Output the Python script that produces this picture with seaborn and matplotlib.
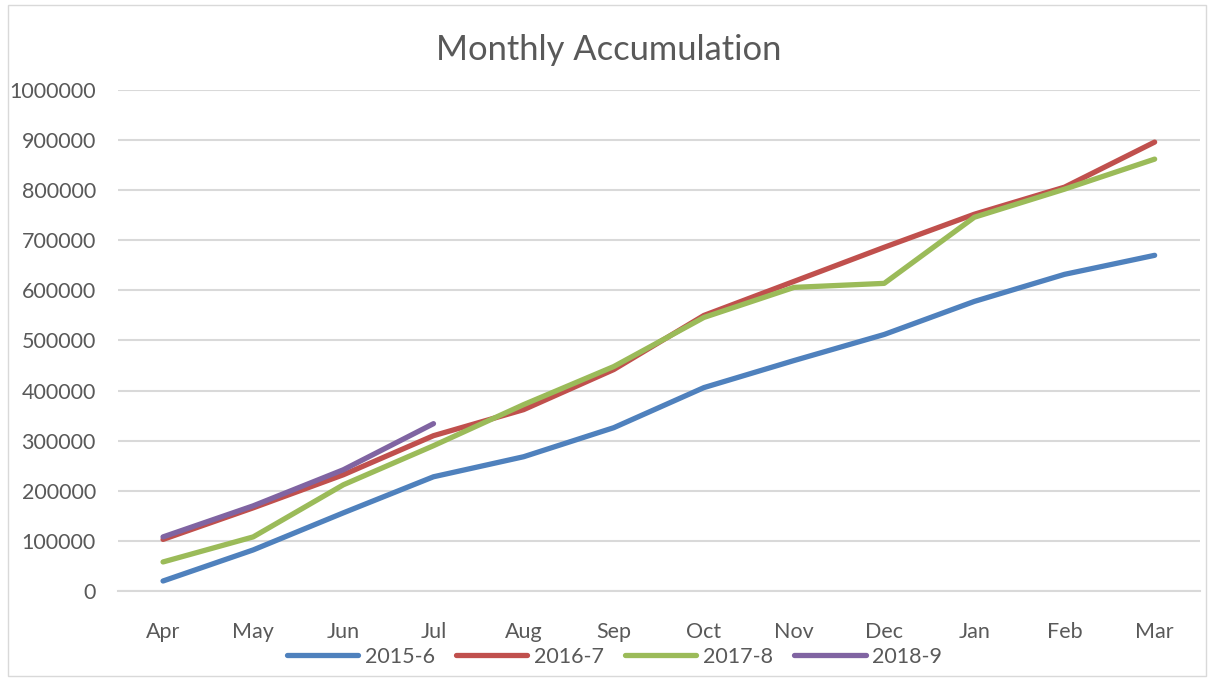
import matplotlib
matplotlib.use("Agg")
import matplotlib.pyplot as plt
import seaborn as sns
import pandas as pd

months = ["Apr", "May", "Jun", "Jul", "Aug", "Sep", "Oct", "Nov", "Dec", "Jan", "Feb", "Mar"]
s2015 = [20000, 82000, 156000, 228000, 268000, 326000, 406000, 460000, 512000, 578000, 632000, 670000]
s2016 = [103000, 166000, 232000, 310000, 362000, 442000, 550000, 618000, 686000, 752000, 806000, 896000]
s2017 = [58000, 108000, 212000, 290000, 372000, 448000, 546000, 606000, 614000, 746000, 802000, 862000]
s2018 = [108000, 170000, 242000, 334000]
series = ["2015-6", "2016-7", "2017-8", "2018-9"]
colors = ["#4F81BD", "#C0504D", "#9BBB59", "#8064A2"]

# long form table for seaborn
rows = []
for name, vals in zip(series, [s2015, s2016, s2017, s2018]):
    for m, v in zip(months, vals):
        rows.append({"month": m, "value": v, "series": name})
df = pd.DataFrame(rows)

sns.set_theme(style="white")
plt.rcParams['font.family'] = ['Lato', 'DejaVu Sans']
txt = "#595959"

fig = plt.figure(figsize=(12.1, 6.78), dpi=100)
ax = fig.add_axes([0.0975, 0.1283, 0.894, 0.739])

sns.lineplot(data=df, x="month", y="value", hue="series", palette=colors,
             hue_order=series, sort=False, linewidth=3.8, ax=ax,
             solid_capstyle="round", legend=True)

ax.set_xlim(-0.5, 11.5)
ax.set_ylim(0, 1000000)
ax.set_yticks(range(0, 1000001, 100000))
ax.set_yticklabels([str(v) for v in range(0, 1000001, 100000)])
ax.yaxis.grid(True, color="#D9D9D9", linewidth=1.5)
ax.set_axisbelow(True)
for side in ["left", "right", "top"]:
    ax.spines[side].set_visible(False)
ax.spines["bottom"].set_color("#D9D9D9")
ax.spines["bottom"].set_linewidth(1.5)
ax.tick_params(axis="both", colors=txt, labelsize=15.5, length=0)
ax.tick_params(axis="x", pad=22)
ax.tick_params(axis="y", pad=16)
ax.set_xlabel("")
ax.set_ylabel("")

fig.suptitle("Monthly Accumulation", x=0.503, y=0.95, fontsize=24.8, color=txt)

handles, labels = ax.get_legend_handles_labels()
ax.get_legend().remove()
leg = fig.legend(handles, labels, loc="center", bbox_to_anchor=(0.508, 0.031), ncol=4,
                 frameon=False, fontsize=15.5, handlelength=3.3, columnspacing=1.0,
                 handletextpad=0.3)
for t in leg.get_texts():
    t.set_color(txt)
for h in leg.get_lines():
    h.set_linewidth(3.8)
    h.set_solid_capstyle("round")

fig.patches.append(plt.Rectangle((0.007, 0.003), 0.99, 0.99, transform=fig.transFigure,
                                 fill=False, edgecolor="#D9D9D9", linewidth=1))

fig.savefig("out.png", dpi=100)
